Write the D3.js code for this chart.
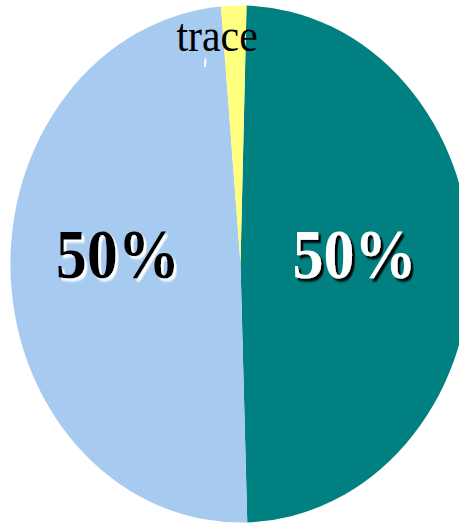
<!DOCTYPE html>
<html>
<head>
<meta charset="utf-8">
<script src="https://cdn.jsdelivr.net/npm/d3@7"></script>
<style>
  html, body { margin: 0; padding: 0; background: #ffffff; overflow: hidden; }
  svg { display: block; }
</style>
</head>
<body>
<div id="chart"></div>
<script>
// Share of the two main groups plus a trace amount
const categories = ["Group A", "Group B", "Trace"];
const values = [50, 50, 1.8];
const labels = ["50%", "50%", "trace"];
const colors = ["#008080", "#A6CAF0", "#FFFF80"];

const width = 459, height = 524;
const cx = 240.5, cy = 264;
const radius = 258.5;
const squash = 0.89;              // pie drawn as a horizontally compressed disc
const startOffset = 1.5 * Math.PI / 180;

const data = categories.map((c, i) => ({ category: c, value: values[i], label: labels[i], color: colors[i] }));

const svg = d3.select("#chart").append("svg")
  .attr("width", width)
  .attr("height", height);

// Drop shadows for the percentage labels
const defs = svg.append("defs");
function shadowFilter(id, color, opacity) {
  const f = defs.append("filter").attr("id", id)
    .attr("x", "-20%").attr("y", "-20%").attr("width", "140%").attr("height", "140%");
  f.append("feDropShadow")
    .attr("dx", 3).attr("dy", 3)
    .attr("stdDeviation", 0.8)
    .attr("flood-color", color)
    .attr("flood-opacity", opacity);
}
shadowFilter("shadowDark", "#000000", 1);
shadowFilter("shadowLight", "#ffffff", 1);

const g = svg.append("g")
  .attr("transform", `translate(${cx},${cy}) scale(${squash},1)`);

const pie = d3.pie()
  .sort(null)
  .value(d => d.value)
  .startAngle(startOffset)
  .endAngle(startOffset + 2 * Math.PI);

const arcs = pie(data);

const arc = d3.arc().innerRadius(0).outerRadius(radius);

g.selectAll("path.slice")
  .data(arcs)
  .join("path")
  .attr("class", "slice")
  .attr("d", arc)
  .attr("fill", d => d.data.color);

// Percentage labels inside the two large slices
const labelArc = d3.arc().innerRadius(133).outerRadius(133);
const big = arcs.filter(d => d.data.category !== "Trace");
const fontBig = 69.5;

g.selectAll("text.pct")
  .data(big)
  .join("text")
  .attr("class", "pct")
  .attr("x", d => labelArc.centroid(d)[0] - 5)
  .attr("y", -10)
  .attr("dy", "0.35em")
  .attr("text-anchor", "middle")
  .attr("font-family", "'Liberation Serif', 'Times New Roman', serif")
  .attr("font-weight", "bold")
  .attr("font-size", fontBig)
  .attr("fill", d => d.data.color === "#008080" ? "#ffffff" : "#000000")
  .attr("filter", d => d.data.color === "#008080" ? "url(#shadowDark)" : "url(#shadowLight)")
  .text(d => d.data.label);

// Outside label for the trace slice with a short leader stub
const trace = arcs.find(d => d.data.category === "Trace");
const traceArc = d3.arc().innerRadius(radius * 0.83).outerRadius(radius * 0.83);
const [tx, ty] = traceArc.centroid(trace);
const traceX = tx - 20, traceY = ty + 1;

g.append("text")
  .attr("x", traceX)
  .attr("y", traceY)
  .attr("text-anchor", "middle")
  .attr("font-family", "'Liberation Serif', 'Times New Roman', serif")
  .attr("font-size", 47)
  .attr("fill", "#000000")
  .text(trace.data.label);

g.append("line")
  .attr("x1", traceX - 13).attr("y1", traceY + 8)
  .attr("x2", traceX - 13.6).attr("y2", traceY + 16.5)
  .attr("stroke", "#ffffff")
  .attr("stroke-width", 2.2);
</script>
</body>
</html>
